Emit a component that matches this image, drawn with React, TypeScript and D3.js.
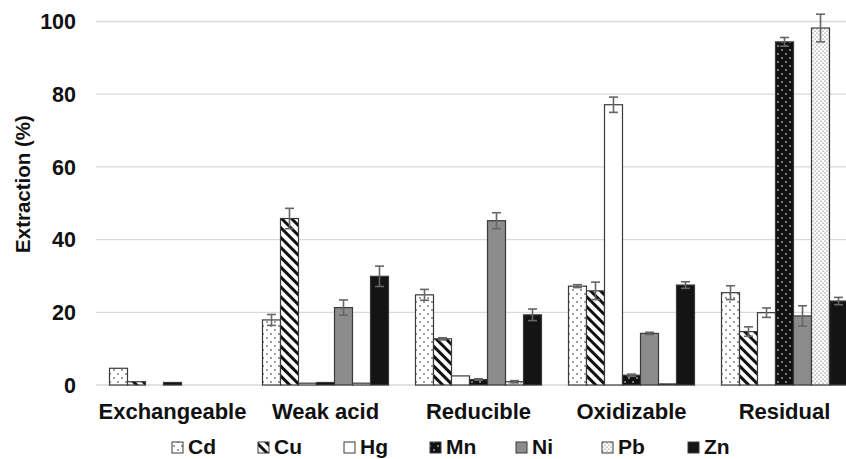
import React from 'react'
import * as d3 from 'd3'

const categories = ['Exchangeable', 'Weak acid', 'Reducible', 'Oxidizable', 'Residual']
const metals = ['Cd', 'Cu', 'Hg', 'Mn', 'Ni', 'Pb', 'Zn']

// extraction % per metal, one value per fraction
const cdValues = [4.6, 17.9, 24.8, 27.2, 25.4]
const cuValues = [0.9, 45.8, 12.7, 25.9, 14.7]
const hgValues = [0, 0.5, 2.5, 77.1, 19.9]
const mnValues = [0.7, 0.7, 1.5, 2.7, 94.4]
const niValues = [0, 21.3, 45.2, 14.2, 19.0]
const pbValues = [0, 0.5, 0.9, 0.3, 98.2]
const znValues = [0, 29.9, 19.3, 27.5, 23.1]

// standard deviations
const cdErr = [0, 1.5, 1.5, 0.4, 1.9]
const cuErr = [0, 2.8, 0.3, 2.4, 1.3]
const hgErr = [0, 0, 0, 2.1, 1.3]
const mnErr = [0, 0, 0.2, 0.3, 1.2]
const niErr = [0, 2.1, 2.2, 0.3, 2.8]
const pbErr = [0, 0, 0.3, 0, 3.8]
const znErr = [0, 2.8, 1.6, 0.9, 1.0]

const yTicks = [0, 20, 40, 60, 80, 100]

const values = [cdValues, cuValues, hgValues, mnValues, niValues, pbValues, znValues]
const errors = [cdErr, cuErr, hgErr, mnErr, niErr, pbErr, znErr]
const fills = ['url(#pCd)', 'url(#pCu)', '#ffffff', 'url(#pMn)', '#8c8c8c', 'url(#pPb)', '#141414']

const width = 846
const height = 459
const font = 'Liberation Sans, Arial, sans-serif'

export default function App() {
  const x0 = d3.scaleBand().domain(categories).range([96, 861])
  const pad = x0.bandwidth() * 1.5 / 8.5 / 2
  const x1 = d3.scaleBand().domain(metals).range([pad, x0.bandwidth() - pad])
  const y = d3.scaleLinear().domain([0, 100]).range([385, 21.5])

  const legendX = d3.scalePoint().domain(metals).range([172, 688])

  return (
    <div style={{ position: 'fixed', left: 0, top: 0 }}>
      <svg width={width} height={height} style={{ display: 'block', background: '#fff' }}>
        <defs>
          <pattern id="pCd" width="8" height="8" patternUnits="userSpaceOnUse">
            <rect width="8" height="8" fill="#fff" />
            <circle cx="2" cy="2" r="0.8" fill="#222" />
            <circle cx="6" cy="6" r="0.8" fill="#222" />
          </pattern>
          <pattern id="pPb" width="4" height="4" patternUnits="userSpaceOnUse">
            <rect width="4" height="4" fill="#fff" />
            <circle cx="1" cy="1" r="0.6" fill="#444" />
            <circle cx="3" cy="3" r="0.6" fill="#444" />
          </pattern>
          <pattern id="pMn" width="8" height="8" patternUnits="userSpaceOnUse">
            <rect width="8" height="8" fill="#111" />
            <circle cx="2" cy="2" r="0.8" fill="#fff" />
            <circle cx="6" cy="6" r="0.8" fill="#fff" />
          </pattern>
          <pattern id="pCu" width="7" height="7" patternUnits="userSpaceOnUse" patternTransform="rotate(-45)">
            <rect width="7" height="7" fill="#fff" />
            <rect x="0" y="0" width="3" height="7" fill="#111" />
          </pattern>
        </defs>

        {yTicks.map(t => (
          <g key={t}>
            <line x1={96} x2={width} y1={y(t)} y2={y(t)} stroke="#d9d9d9" strokeWidth={1.3} />
            <text x={76} y={y(t)} dy="0.36em" textAnchor="end" fontFamily={font} fontWeight="bold" fontSize={21.5} fill="#111">{t}</text>
          </g>
        ))}

        <text transform="translate(30,184) rotate(-90)" textAnchor="middle" fontFamily={font} fontWeight="bold" fontSize={20.5} fill="#111">Extraction (%)</text>

        {categories.map((c, ci) => (
          <g key={c} transform={`translate(${x0(c)},0)`}>
            {metals.map((m, mi) => {
              const v = values[mi][ci]
              if (v <= 0) return null
              const bx = x1(m) as number
              const bw = x1.bandwidth()
              const e = errors[mi][ci]
              const cx = bx + bw / 2
              return (
                <g key={m}>
                  <rect x={bx} y={y(v)} width={bw} height={y(0) - y(v)} fill={fills[mi]} stroke="#3a3a3a" strokeWidth={1.2} />
                  {e > 0 && (
                    <g stroke="#666" strokeWidth={1.6}>
                      <line x1={cx} x2={cx} y1={y(v + e)} y2={y(v - e)} />
                      <line x1={cx - 4.5} x2={cx + 4.5} y1={y(v + e)} y2={y(v + e)} />
                      <line x1={cx - 4.5} x2={cx + 4.5} y1={y(v - e)} y2={y(v - e)} />
                    </g>
                  )}
                </g>
              )
            })}
            <text x={x0.bandwidth() / 2} y={419} textAnchor="middle" fontFamily={font} fontWeight="bold" fontSize={22} fill="#111">{c}</text>
          </g>
        ))}

        {metals.map((m, mi) => {
          const lx = legendX(m) as number
          return (
            <g key={m}>
              <rect x={lx} y={442} width={11} height={11} fill={fills[mi]} stroke="#3a3a3a" strokeWidth={1} />
              <text x={lx + 16} y={454} fontFamily={font} fontWeight="bold" fontSize={21} fill="#111">{m}</text>
            </g>
          )
        })}
      </svg>
    </div>
  )
}
